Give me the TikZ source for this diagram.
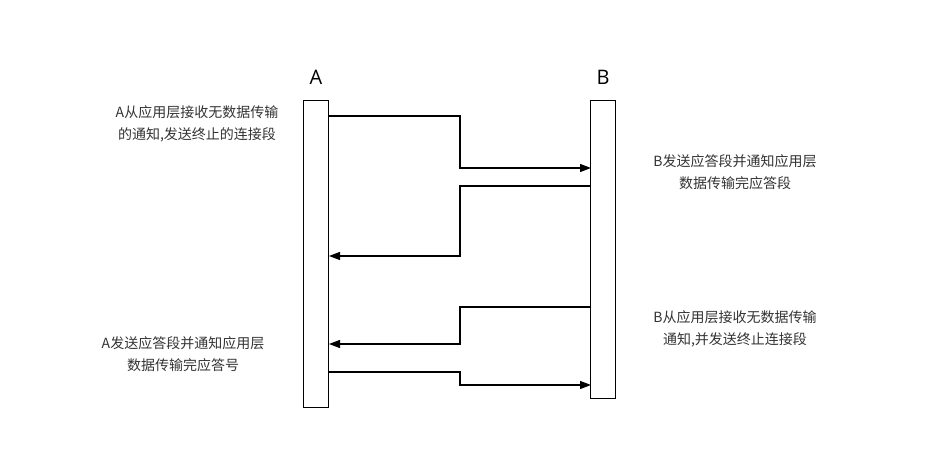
\documentclass[tikz,border=0pt]{standalone}
\usepackage{fontspec}
\setmainfont{Open Sans}
\newfontfamily\cjk{Noto Sans CJK SC}
\usetikzlibrary{arrows.meta}
\begin{document}
\begin{tikzpicture}[x=1pt,y=-1pt,
  bar/.style={draw,line width=1.2pt,fill=white,minimum width=25pt,inner sep=0pt},
  msg/.style={line width=1.2pt,-{Triangle[length=11pt,width=8pt]}},
  lbl/.style={font=\cjk\fontsize{14}{22}\selectfont,align=center,text=black!80},
  hd/.style={font=\fontsize{20}{24}\selectfont}]
\useasboundingbox (0,0) rectangle (935,465);
\node[bar,minimum height=307pt,anchor=north] (A) at (316,100) {};
\node[bar,minimum height=298pt,anchor=north] (B) at (603,100) {};
\node[hd] (la) at (316,77) {A};
\node[hd] (lb) at (603,77) {B};
\coordinate (a1) at (329,116); \coordinate (b1) at (591,168);
\draw[msg] (a1) -| (460,142) |- (b1);
\coordinate (b2) at (591,186); \coordinate (a2) at (329,256);
\draw[msg] (b2) -| (460,220) |- (a2);
\coordinate (b3) at (591,307); \coordinate (a3) at (329,344);
\draw[msg] (b3) -| (460,325) |- (a3);
\coordinate (a4) at (329,372); \coordinate (b4) at (591,385);
\draw[msg] (a4) -| (460,378) |- (b4);
\node[lbl] (t1) at (197,124) {A从应用层接收无数据传输\\的通知,发送终止的连接段};
\node[lbl] (t2) at (735,172) {B发送应答段并通知应用层\\数据传输完应答段};
\node[lbl] (t3) at (735,329) {B从应用层接收无数据传输\\通知,并发送终止连接段};
\node[lbl] (t4) at (183,354) {A发送应答段并通知应用层\\数据传输完应答号};
\end{tikzpicture}
\end{document}
